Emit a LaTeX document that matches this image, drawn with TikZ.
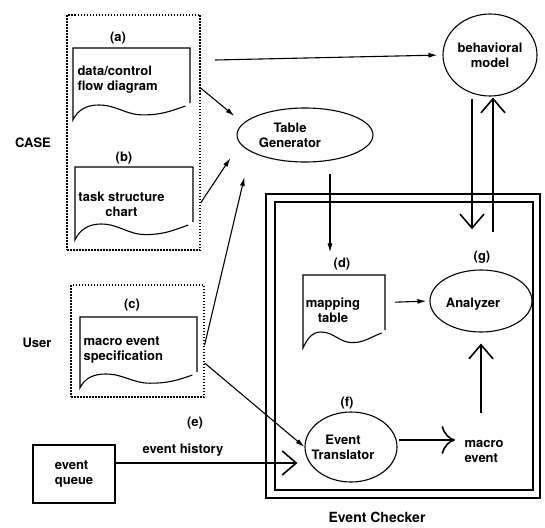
\documentclass[tikz,border=0pt]{standalone}
\usepackage{fontspec}
\setmainfont{TeX Gyre Heros}
\usepackage{tikz}
\usetikzlibrary{arrows.meta,calc,positioning,shapes.geometric}

% sheet with a wavy lower edge round a (shape only) node
\newcommand{\docshape}[2]{%
  \draw (#1.south east) -- (#1.north east) -- (#1.north west) -- ($(#1.south west)+(0,-#2)$)
    to[out=65,in=180] ($(#1.south west)!0.22!(#1.south east)+(0,-2)$)
    to[out=0,in=180] ($(#1.south west)!0.6!(#1.south east)+(0,-0.7*#2)$)
    to[out=0,in=200] ($(#1.south west)!0.96!(#1.south east)+(0,-3)$);}

\begin{document}
\begin{tikzpicture}[x=1pt, y=1pt, line width=1.1pt,
  every node/.style={font=\fontsize{13}{15}\selectfont\bfseries, inner sep=1pt},
  txt/.style={align=left},
  sheet/.style={inner sep=0, outer sep=0},
  dotbox/.style={draw, line width=1.2pt, dash pattern=on 1.5pt off 1.5pt, inner sep=0},
  oval/.style={draw, ellipse, inner sep=0, align=center},
  ecbox/.style={draw, line width=1.6pt, inner sep=0},
  arr/.style={-{Latex[length=9pt,width=5pt]}},
  bigarr/.style={line width=1.6pt, -{Straight Barb[length=14pt,width=24pt]}},
  curvarr/.style={line width=1.6pt, -{To[scale=2.6]}}]
\useasboundingbox (0,0) rectangle (545,-527);

%----- CASE -----
\node[dotbox, minimum width=133pt, minimum height=235pt] (caseBox) at (133.5,-132.5) {};
\node (caseLbl) at (33,-143) {CASE};
\node (lblA) at (118,-38) {(a)};
\node[sheet, minimum width=117pt, minimum height=55pt] (docA) at (131.5,-75.5) {};
\docshape{docA}{17}
\node[txt, anchor=west] (docAtxt) at (76,-80) {data/control\\flow diagram};
\node (lblB) at (124,-158) {(b)};
\node[sheet, minimum width=118pt, minimum height=55pt] (docB) at (134,-194.5) {};
\docshape{docB}{18}
\node[align=center] (docBtxt) at (121.5,-204.5) {task structure\\chart};

%----- User -----
\node[dotbox, minimum width=133pt, minimum height=112pt] (userBox) at (137.5,-341) {};
\node (userLbl) at (37,-343) {User};
\node (lblC) at (132,-305) {(c)};
\node[sheet, minimum width=117pt, minimum height=55pt] (docC) at (138.5,-344.5) {};
\docshape{docC}{16}
\node[txt, anchor=west] (docCtxt) at (82,-350) {macro event\\specification};

%----- generator and model -----
\node[oval, minimum width=136pt, minimum height=54pt] (tblGen) at (305,-135) {};
\node[align=center] (tblGenTxt) at (290,-135) {Table\\Generator};
\node[oval, minimum width=94pt, minimum height=82pt] (behav) at (490,-55) {behavioral\\model};
\coordinate (topStart) at (215,-60);

%----- Event Checker -----
\node[ecbox, minimum width=274pt, minimum height=304pt] (ecOuter) at (403,-346) {};
\node[ecbox, minimum width=258pt, minimum height=288pt] (ecInner) at (404,-346) {};
\node[font=\fontsize{14}{16}\selectfont\bfseries] (ecLbl) at (377,-517) {Event Checker};
\node (lblD) at (342,-264) {(d)};
\node[sheet, minimum width=82pt, minimum height=55pt] (docD) at (344,-302.5) {};
\docshape{docD}{18}
\node[align=center] (docDtxt) at (333,-310) {mapping\\table};
\node (lblG) at (482,-257) {(g)};
\node[oval, minimum width=102pt, minimum height=62pt] (analyzer) at (481,-301) {};
\node (analyzerTxt) at (473,-304) {Analyzer};
\node (lblF) at (347,-403) {(f)};
\node[oval, minimum width=92pt, minimum height=70pt] (evTrans) at (351,-447) {};
\node[align=center] (evTransTxt) at (343,-447) {Event\\Translator};
\node[txt] (macroEv) at (484,-451) {macro\\event};

%----- event queue -----
\node[draw, minimum width=82pt, minimum height=58pt, align=left] (evQueue) at (74,-474) {event\\queue};
\node (lblE) at (195,-423) {(e)};
\node (evHist) at (183,-450) {event history};

%----- connectors -----
\draw[arr] ([yshift=44.5]caseBox.east) -- ($(tblGen.west)+(-2,19)$);
\draw[arr] ([yshift=-70.5]caseBox.east) -- ($(tblGen.west)+(-6,-23)$);
\draw[arr] ([yshift=-4]userBox.east) -- ($(tblGen.west)+(8,-42)$);
\draw[arr] ([yshift=-22]userBox.east) -- (evTrans.west);
\draw[arr, shorten >=5] (topStart) -- (behav.west);
\draw[arr, shorten <=11, shorten >=4] ([xshift=25]tblGen.south) -- ([xshift=25]tblGen.south |- lblD.north);
\draw[arr, shorten <=10, shorten >=3] (docD.east) -- (analyzer.west);
\draw[bigarr, shorten <=2, shorten >=20] ([xshift=-18]behav.south) -- ([xshift=-18]behav.south |- lblG.north);
\draw[bigarr, shorten <=17, shorten >=1] ([xshift=3]behav.south |- lblG.north) -- ([xshift=3]behav.south);
\draw[bigarr, shorten <=25, shorten >=11] (analyzer.south |- macroEv.north) -- (analyzer.south);
\draw[curvarr, shorten <=1, shorten >=8] ([yshift=7]evTrans.east) -- ([yshift=7]evTrans.east -| macroEv.west);
\draw[bigarr, shorten >=7] ([yshift=11]evQueue.east) -- ([yshift=11]evQueue.east -| evTrans.west);
\end{tikzpicture}
\end{document}
